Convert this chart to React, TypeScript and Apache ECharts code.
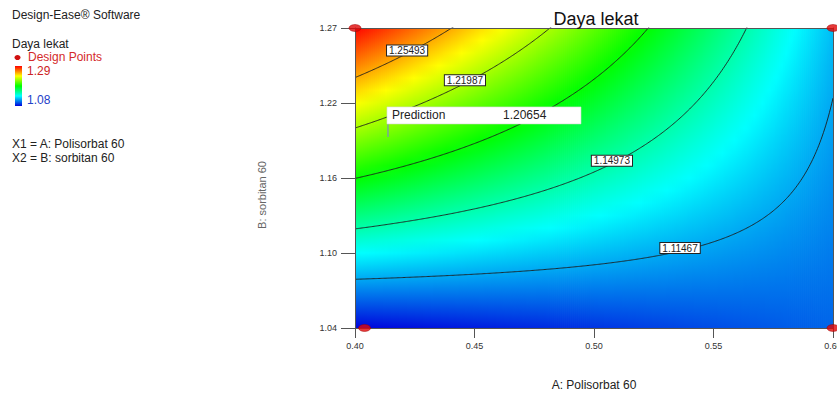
import React, { useEffect, useRef } from "react";
import * as echarts from "echarts";

// ---- data ----
const A_RANGE = [0.4, 0.6];
const B_RANGE = [1.04, 1.27];
const yTickLabels = ["1.04", "1.10", "1.16", "1.22", "1.27"];
// fitted 2FI model in coded factors: Y = b0 + bA*x1 + bB*x2 + bAB*x1*x2
const modelTerms = ["Intercept", "A", "B", "AB"];
const modelCoefs = [1.14748, -0.03763, 0.05668, -0.04763];
const contourLevels = [1.11467, 1.14973, 1.1848, 1.21987, 1.25493];
const contourLabelA = [0.536, 0.5075, null, 0.446, 0.4218];
const designA = [0.4, 0.6, 0.404, 0.6];
const designB = [1.27, 1.27, 1.04, 1.04];
const legendRange = [1.08, 1.29];
const predictionPoint = [0.4138, 1.1865];
const predictionValue = "1.20654";
const paletteStops = [0, 0.25, 0.5, 0.75, 1];
const paletteColors = ["#0000dc", "#00ffff", "#00ff00", "#ffff00", "#ff0000"];

const FONT = 'Arial, "Liberation Sans", sans-serif';

const aMid = (A_RANGE[0] + A_RANGE[1]) / 2;
const aHalf = (A_RANGE[1] - A_RANGE[0]) / 2;
const bMid = (B_RANGE[0] + B_RANGE[1]) / 2;
const bHalf = (B_RANGE[1] - B_RANGE[0]) / 2;

function predict(A: number, B: number) {
  const x1 = (A - aMid) / aHalf;
  const x2 = (B - bMid) / bHalf;
  return modelCoefs[0] + modelCoefs[1] * x1 + modelCoefs[2] * x2 + modelCoefs[3] * x1 * x2;
}
function solveB(level: number, A: number) {
  const x1 = (A - aMid) / aHalf;
  const x2 = (level - modelCoefs[0] - modelCoefs[1] * x1) / (modelCoefs[2] + modelCoefs[3] * x1);
  return bMid + bHalf * x2;
}
function hexToRgb(h: string) {
  return [parseInt(h.slice(1, 3), 16), parseInt(h.slice(3, 5), 16), parseInt(h.slice(5, 7), 16)];
}
const paletteRgb = paletteColors.map(hexToRgb);
function colorAt(y: number) {
  let t = (y - legendRange[0]) / (legendRange[1] - legendRange[0]);
  t = Math.max(0, Math.min(1, t));
  let i = 0;
  while (i < paletteStops.length - 2 && t > paletteStops[i + 1]) i++;
  const f = (t - paletteStops[i]) / (paletteStops[i + 1] - paletteStops[i]);
  const c0 = paletteRgb[i], c1 = paletteRgb[i + 1];
  const c = c0.map((v, k) => Math.round(v + (c1[k] - v) * f));
  return `rgb(${c[0]},${c[1]},${c[2]})`;
}

const N_COLS = 240;

export default function App() {
  const ref = useRef<HTMLDivElement>(null);
  useEffect(() => {
    if (!ref.current) return;
    const chart = echarts.init(ref.current, null, { renderer: "svg" });
    const dA = (A_RANGE[1] - A_RANGE[0]) / N_COLS;
    const colData = Array.from({ length: N_COLS }, (_, i) => [A_RANGE[0] + (i + 0.5) * dA, B_RANGE[0]]);

    const contourSeries = contourLevels.map((L) => {
      const pts: number[][] = [];
      for (let j = 0; j <= 400; j++) {
        const A = A_RANGE[0] + ((A_RANGE[1] - A_RANGE[0]) * j) / 400;
        const B = solveB(L, A);
        if (B >= B_RANGE[0] - 0.15 && B <= B_RANGE[1] + 0.15) pts.push([A, B]);
      }
      return {
        type: "line",
        data: pts,
        symbol: "none",
        silent: true,
        clip: true,
        z: 3,
        lineStyle: { color: "#1e1e1e", width: 0.9 },
      };
    });

    const option: any = {
      animation: false,
      backgroundColor: "#ffffff",
      textStyle: { fontFamily: FONT },
      title: {
        text: "Daya lekat",
        left: 591,
        top: 5,
        textAlign: "center",
        textStyle: { fontSize: 18, fontWeight: "normal", color: "#111", fontFamily: FONT },
      },
      grid: { left: 355, top: 28, width: 478, height: 300, containLabel: false, outerBoundsMode: "none" },
      xAxis: [
        {
          type: "value",
          min: A_RANGE[0],
          max: A_RANGE[1],
          interval: 0.05,
          position: "bottom",
          z: 6,
          axisLine: { show: true, onZero: false, lineStyle: { color: "#555", width: 1 } },
          axisTick: { show: true, length: 10, lineStyle: { color: "#555" } },
          axisLabel: { fontSize: 9, color: "#333", margin: 13, formatter: (v: number) => v.toFixed(2), showMaxLabel: true, showMinLabel: true },
          splitLine: { show: false },
          name: "A: Polisorbat 60",
          nameLocation: "middle",
          nameGap: 57,
          nameTextStyle: { fontSize: 12, color: "#222", verticalAlign: "middle", fontFamily: FONT },
        },
        {
          type: "value",
          min: A_RANGE[0],
          max: A_RANGE[1],
          position: "top",
          z: 6,
          axisLine: { show: true, onZero: false, lineStyle: { color: "#555", width: 1 } },
          axisTick: { show: false },
          axisLabel: { show: false },
          splitLine: { show: false },
        },
      ],
      yAxis: [
        {
          type: "value",
          min: B_RANGE[0],
          max: B_RANGE[1],
          position: "left",
          axisLine: { show: false },
          axisTick: { show: false },
          axisLabel: { show: false },
          splitLine: { show: false },
        },
        {
          type: "value",
          min: 0,
          max: yTickLabels.length - 1,
          interval: 1,
          position: "left",
          z: 6,
          axisLine: { show: true, onZero: false, lineStyle: { color: "#555", width: 1 } },
          axisTick: { show: true, length: 14, lineStyle: { color: "#555" } },
          axisLabel: { fontSize: 9, color: "#333", margin: 18, formatter: (v: number) => yTickLabels[Math.round(v)] },
          splitLine: { show: false },
        },
        {
          type: "value",
          min: B_RANGE[0],
          max: B_RANGE[1],
          position: "right",
          z: 6,
          axisLine: { show: true, onZero: false, lineStyle: { color: "#555", width: 1 } },
          axisTick: { show: false },
          axisLabel: { show: false },
          splitLine: { show: false },
        },
      ],
      series: [
        {
          type: "custom",
          xAxisIndex: 0,
          yAxisIndex: 0,
          silent: true,
          clip: true,
          z: 1,
          data: colData,
          renderItem: (params: any, api: any) => {
            const Ac = api.value(0);
            const A0 = Ac - dA / 2;
            const A1 = Ac + dA / 2;
            const p0 = api.coord([A0, B_RANGE[1]]);
            const p1 = api.coord([A1, B_RANGE[0]]);
            const stops = [];
            for (let k = 0; k <= 24; k++) {
              const f = k / 24;
              const B = B_RANGE[1] - f * (B_RANGE[1] - B_RANGE[0]);
              stops.push({ offset: f, color: colorAt(predict(Ac, B)) });
            }
            return {
              type: "rect",
              shape: { x: p0[0], y: p0[1], width: p1[0] - p0[0] + 0.8, height: p1[1] - p0[1] },
              style: { fill: new echarts.graphic.LinearGradient(0, 0, 0, 1, stops), stroke: null },
            };
          },
        },
        ...contourSeries,
        {
          type: "scatter",
          xAxisIndex: 0,
          yAxisIndex: 0,
          data: designA.map((a, i) => [a, designB[i]]),
          symbol: "circle",
          symbolSize: [12, 7],
          clip: false,
          z: 7,
          itemStyle: { color: "#e00808", borderColor: "#a00000", borderWidth: 0.6 },
        },
      ],
    };
    chart.setOption(option);

    const toPx = (v: number[]) => chart.convertToPixel({ seriesIndex: 0 }, v) as number[];
    const pp = toPx(predictionPoint);
    const contourLabels: any[] = [];
    contourLevels.forEach((L, i) => {
      const a = contourLabelA[i];
      if (a == null) return;
      const p = toPx([a, solveB(L, a)]);
      contourLabels.push({
        type: "text",
        x: p[0],
        y: p[1] - 3,
        z: 15,
        style: {
          text: L.toFixed(5),
          fill: "#222",
          fontSize: 10,
          fontFamily: FONT,
          align: "center",
          verticalAlign: "middle",
          backgroundColor: "#ffffff",
          borderColor: "#222",
          borderWidth: 1,
          padding: [0, 2, 0, 2],
          lineHeight: 10,
        },
      });
    });
    const legendGradient = new echarts.graphic.LinearGradient(
      0,
      0,
      0,
      1,
      paletteStops.map((s, i) => ({ offset: 1 - s, color: paletteColors[i] })).reverse()
    );
    const txt = (text: string, x: number, y: number, fill = "#222", size = 12) => ({
      type: "text",
      x,
      y,
      z: 20,
      style: { text, fill, fontSize: size, fontFamily: FONT, align: "left", verticalAlign: "middle" },
    });
    chart.setOption({
      graphic: [
        ...contourLabels,
        txt("Design-Ease® Software", 12, 15),
        txt("Daya lekat", 12, 44),
        { type: "ellipse", z: 20, shape: { cx: 17.5, cy: 57.5, rx: 3, ry: 2.6 }, style: { fill: "#d01010" } },
        txt("Design Points", 28, 57, "#d42a2a"),
        { type: "rect", z: 20, shape: { x: 15, y: 66, width: 7, height: 40 }, style: { fill: legendGradient } },
        txt(legendRange[1].toFixed(2), 27, 71, "#cc2222"),
        txt(legendRange[0].toFixed(2), 27, 100, "#2340c8"),
        txt("X1 = A: Polisorbat 60", 12, 144),
        txt("X2 = B: sorbitan 60", 12, 158),
        {
          type: "text",
          x: 262,
          y: 195,
          rotation: Math.PI / 2,
          z: 20,
          style: { text: "B: sorbitan 60", fill: "#666", fontSize: 11, fontFamily: FONT, align: "center", verticalAlign: "middle" },
        },
        {
          type: "line",
          z: 20,
          shape: { x1: pp[0], y1: pp[1], x2: pp[0], y2: pp[1] - 13 },
          style: { stroke: "#7d8cc0", lineWidth: 1.2 },
        },
        {
          type: "rect",
          z: 20,
          shape: { x: pp[0] - 1, y: pp[1] - 30, width: 194, height: 17 },
          style: { fill: "#ffffff", stroke: "#d8d8d8", lineWidth: 0.6 },
        },
        txt("Prediction", pp[0] + 4, pp[1] - 21.5),
        txt(predictionValue, pp[0] + 115, pp[1] - 21.5),
      ],
    });
    return () => chart.dispose();
  }, []);
  return (
    <div
      ref={ref}
      style={{ position: "fixed", left: 0, top: 0, width: 837, height: 394, background: "#fff" }}
    />
  );
}
